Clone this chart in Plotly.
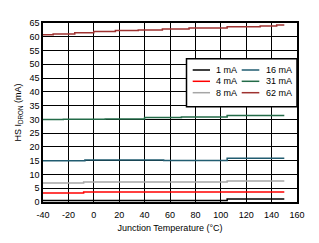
import plotly.graph_objects as go

# ---- data ----
names = ["1 mA", "4 mA", "8 mA", "16 mA", "31 mA", "62 mA"]
colors = ["#000000", "#FF0000", "#A6A6A6", "#215C70", "#236B48", "#9E3230"]

x_1mA = [-40, 105, 150]
y_1mA = [0.5, 1.05, 1.05]
x_4mA = [-40, -8, 150]
y_4mA = [3.25, 3.6, 3.6]
x_8mA = [-40, -8, 105, 150]
y_8mA = [6.9, 7.25, 7.6, 7.6]
x_16mA = [-40, -7, 55, 105, 150]
y_16mA = [15.0, 15.25, 15.1, 15.9, 15.9]
x_31mA = [-40, -24, 9, 40, 69, 105, 150]
y_31mA = [30.0, 30.05, 30.1, 30.65, 30.9, 31.4, 31.4]
x_62mA = [-40, -32, -15, 0, 17, 35, 54, 75, 105, 131, 144, 150]
y_62mA = [60.7, 61.05, 61.5, 61.9, 62.25, 62.5, 62.8, 63.2, 63.6, 63.95, 64.3, 64.3]

xs = [x_1mA, x_4mA, x_8mA, x_16mA, x_31mA, x_62mA]
ys = [y_1mA, y_4mA, y_8mA, y_16mA, y_31mA, y_62mA]

x_ticks = list(range(-40, 161, 20))
y_ticks = list(range(0, 66, 5))

FONT = "Liberation Sans, Arial, sans-serif"
W, H = 319, 243
L, R, T, B = 43, 22, 23, 41

fig = go.Figure()
for n, c, x, y in zip(names, colors, xs, ys):
    fig.add_trace(go.Scatter(x=x, y=y, mode="lines", name=n,
                             line=dict(color=c, width=1.5, shape="hv"),
                             showlegend=False))

fig.update_layout(
    width=W, height=H,
    margin=dict(l=L, r=R, t=T, b=B, pad=0),
    paper_bgcolor="white", plot_bgcolor="white",
    font=dict(family=FONT, size=9, color="#000000"),
    showlegend=False,
)
fig.update_xaxes(range=[-40, 160], tickvals=x_ticks, ticktext=[str(v) for v in x_ticks],
                 ticks="outside", ticklen=3, tickcolor="rgba(0,0,0,0)",
                 showgrid=True, gridcolor="#000000", gridwidth=1,
                 showline=True, linecolor="#000000", linewidth=1.5, mirror=True,
                 zeroline=False, tickfont=dict(size=9),
                 title=dict(text="Junction Temperature (°C)", font=dict(size=9), standoff=6))
fig.update_yaxes(range=[0, 65], tickvals=y_ticks, ticktext=[str(v) for v in y_ticks],
                 ticks="",
                 showgrid=True, gridcolor="#000000", gridwidth=1,
                 showline=True, linecolor="#000000", linewidth=1.5, mirror=True,
                 zeroline=False, tickfont=dict(size=9),
                 title=dict(text="HS I<sub>DRON</sub> (mA)", font=dict(size=9), standoff=6))

# ---- manual legend ----
pw = W - L - R
ph = H - T - B
def px2x(px):
    return (px - L) / pw
def py2y(py):
    return (H - B - py) / ph

shapes = [dict(type="rect", xref="paper", yref="paper",
               x0=px2x(186.5), x1=1.0, y0=py2y(106.7), y1=py2y(58.8),
               line=dict(color="#000000", width=1.5), fillcolor="white", layer="above")]
annos = []
rows = [70, 81.3, 92.7]
cols = [(192.7, 210, 213.5), (241.7, 259.3, 263.5)]
for i, (n, c) in enumerate(zip(names, colors)):
    col = cols[i // 3]
    ry = rows[i % 3]
    shapes.append(dict(type="line", xref="paper", yref="paper",
                       x0=px2x(col[0]), x1=px2x(col[1]), y0=py2y(ry), y1=py2y(ry),
                       line=dict(color=c, width=1.5), layer="above"))
    annos.append(dict(xref="paper", yref="paper", x=px2x(col[2]), y=py2y(ry),
                      text=n, showarrow=False, xanchor="left", yanchor="middle",
                      font=dict(size=9, color="#000000", family=FONT)))
fig.update_layout(shapes=shapes, annotations=annos)

fig.write_html("out.html")
